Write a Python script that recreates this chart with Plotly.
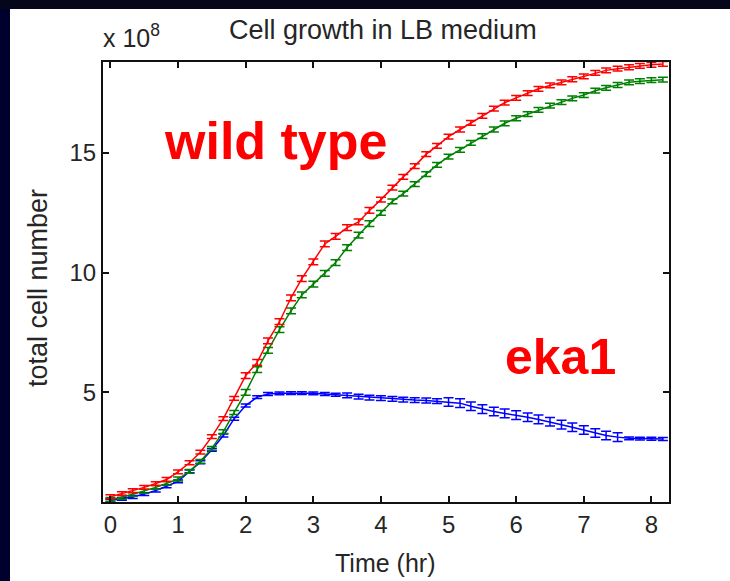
import plotly.graph_objects as go

# ---- data (x 1e8 cells) ----
time_hr = [0.00, 0.17, 0.33, 0.50, 0.67, 0.83, 1.00, 1.17, 1.33, 1.50,
           1.67, 1.83, 2.00, 2.17, 2.33, 2.50, 2.67, 2.83, 3.00, 3.17,
           3.33, 3.50, 3.67, 3.83, 4.00, 4.17, 4.33, 4.50, 4.67, 4.83,
           5.00, 5.17, 5.33, 5.50, 5.67, 5.83, 6.00, 6.17, 6.33, 6.50,
           6.67, 6.83, 7.00, 7.17, 7.33, 7.50, 7.67, 7.83, 8.00, 8.17]

wt_red = [0.64, 0.77, 0.89, 1.03, 1.19, 1.36, 1.68, 2.06, 2.50, 3.15,
          3.90, 4.75, 5.70, 6.25, 7.15, 7.95, 8.95, 9.75, 10.45, 11.20,
          11.52, 11.88, 12.12, 12.60, 13.05, 13.55, 14.00, 14.45, 14.95, 15.30,
          15.68, 15.98, 16.26, 16.55, 16.85, 17.10, 17.30, 17.50, 17.68, 17.82,
          17.95, 18.08, 18.20, 18.35, 18.45, 18.52, 18.58, 18.64, 18.68, 18.72]
wt_red_err = [0.08] * 12 + [0.12] * 12 + [0.1] * 26

wt_green = [0.53, 0.62, 0.74, 0.87, 1.03, 1.20, 1.38, 1.70, 2.12, 2.66,
            3.36, 4.16, 5.00, 5.95, 6.75, 7.62, 8.40, 9.07, 9.52, 9.97,
            10.42, 11.05, 11.57, 12.05, 12.50, 12.98, 13.30, 13.70, 14.12, 14.50,
            14.85, 15.13, 15.42, 15.70, 15.98, 16.24, 16.45, 16.62, 16.80, 16.98,
            17.12, 17.28, 17.42, 17.60, 17.72, 17.84, 17.95, 18.00, 18.04, 18.06]
wt_green_err = [0.08] * 12 + [0.12] * 12 + [0.1] * 26

eka1_blue = [0.48, 0.55, 0.63, 0.75, 0.90, 1.08, 1.28, 1.70, 2.08, 2.60,
             3.20, 3.90, 4.45, 4.80, 4.93, 4.96, 4.97, 4.97, 4.96, 4.93,
             4.90, 4.87, 4.82, 4.78, 4.76, 4.73, 4.70, 4.68, 4.66, 4.63,
             4.60, 4.55, 4.42, 4.30, 4.20, 4.12, 4.05, 3.96, 3.87, 3.77,
             3.65, 3.54, 3.43, 3.30, 3.20, 3.13, 3.08, 3.07, 3.06, 3.05]
eka1_blue_err = [0.06] * 21 + [0.1] * 9 + [0.18] * 16 + [0.06] * 4

x_ticks = [0, 1, 2, 3, 4, 5, 6, 7, 8]
y_ticks = [5, 10, 15]

# ---- layout geometry (pixels) ----
W, H = 730, 581
L, R, T, B = 103, 669, 62, 502
pw, ph = R - L, B - T


def px(x):
    return (x - L) / pw


def py(y):
    return (B - y) / ph


fig = go.Figure()
for ys, es, col in [(eka1_blue, eka1_blue_err, "#0000ff"),
                    (wt_green, wt_green_err, "#008000"),
                    (wt_red, wt_red_err, "#ff0000")]:
    fig.add_trace(go.Scatter(
        x=time_hr, y=ys, mode="lines",
        line=dict(color=col, width=1.5),
        error_y=dict(type="data", array=es, visible=True, color=col,
                     thickness=1.5, width=5),
        showlegend=False, hoverinfo="skip"))

FAM = "Liberation Sans, Arial, sans-serif"
axis_font = dict(family=FAM, size=24, color="#262626")

fig.update_xaxes(range=[-0.11, 8.26], tickvals=x_ticks, ticks="inside", ticklen=6,
                 tickwidth=1.5, tickcolor="#111", showline=True, linecolor="#111",
                 linewidth=2, mirror="ticks", showgrid=False, zeroline=False,
                 tickfont=axis_font)
fig.update_yaxes(range=[0.42, 18.8], tickvals=y_ticks, ticks="inside", ticklen=6,
                 tickwidth=1.5, tickcolor="#111", showline=True, linecolor="#111",
                 linewidth=2, mirror="ticks", showgrid=False, zeroline=False,
                 tickfont=axis_font)

shapes = [
    dict(type="rect", xref="paper", yref="paper", layer="below",
         x0=px(10), x1=px(W + 20), y0=py(H + 20), y1=py(9),
         fillcolor="white", line=dict(width=0)),
    dict(type="rect", xref="paper", yref="paper", layer="below",
         x0=px(-5), x1=px(W + 20), y0=py(9), y1=py(-5),
         fillcolor="#05061a", line=dict(width=0)),
]

ann_font = dict(family=FAM, color="#262626")
annotations = [
    dict(text="Cell growth in LB medium", x=px(383), y=py(30), xref="paper", yref="paper",
         showarrow=False, xanchor="center", yanchor="middle", font=dict(size=27, **ann_font)),
    dict(text="x 10<sup>8</sup>", x=px(101), y=py(36), xref="paper", yref="paper",
         showarrow=False, xanchor="left", yanchor="middle", font=dict(size=25, **ann_font)),
    dict(text="Time (hr)", x=px(385), y=py(563), xref="paper", yref="paper",
         showarrow=False, xanchor="center", yanchor="middle", font=dict(size=25, **ann_font)),
    dict(text="total cell number", x=px(38), y=py(288), xref="paper", yref="paper",
         showarrow=False, xanchor="center", yanchor="middle", textangle=-90,
         font=dict(size=27, **ann_font)),
    dict(text="<b>wild type</b>", x=px(275), y=py(141), xref="paper", yref="paper",
         showarrow=False, xanchor="center", yanchor="middle",
         font=dict(family=FAM, size=52, color="#ff0000")),
    dict(text="<b>eka1</b>", x=px(560), y=py(357), xref="paper", yref="paper",
         showarrow=False, xanchor="center", yanchor="middle",
         font=dict(family=FAM, size=50, color="#ff0000")),
]

fig.update_layout(
    width=W, height=H,
    margin=dict(l=L, r=W - R, t=T, b=H - B, pad=0),
    paper_bgcolor="#00002e", plot_bgcolor="white",
    shapes=shapes, annotations=annotations,
)

fig.write_html("out.html",
               config={"displayModeBar": False},
               post_script="document.body.style.margin='0';document.body.style.background='#00002e';")
